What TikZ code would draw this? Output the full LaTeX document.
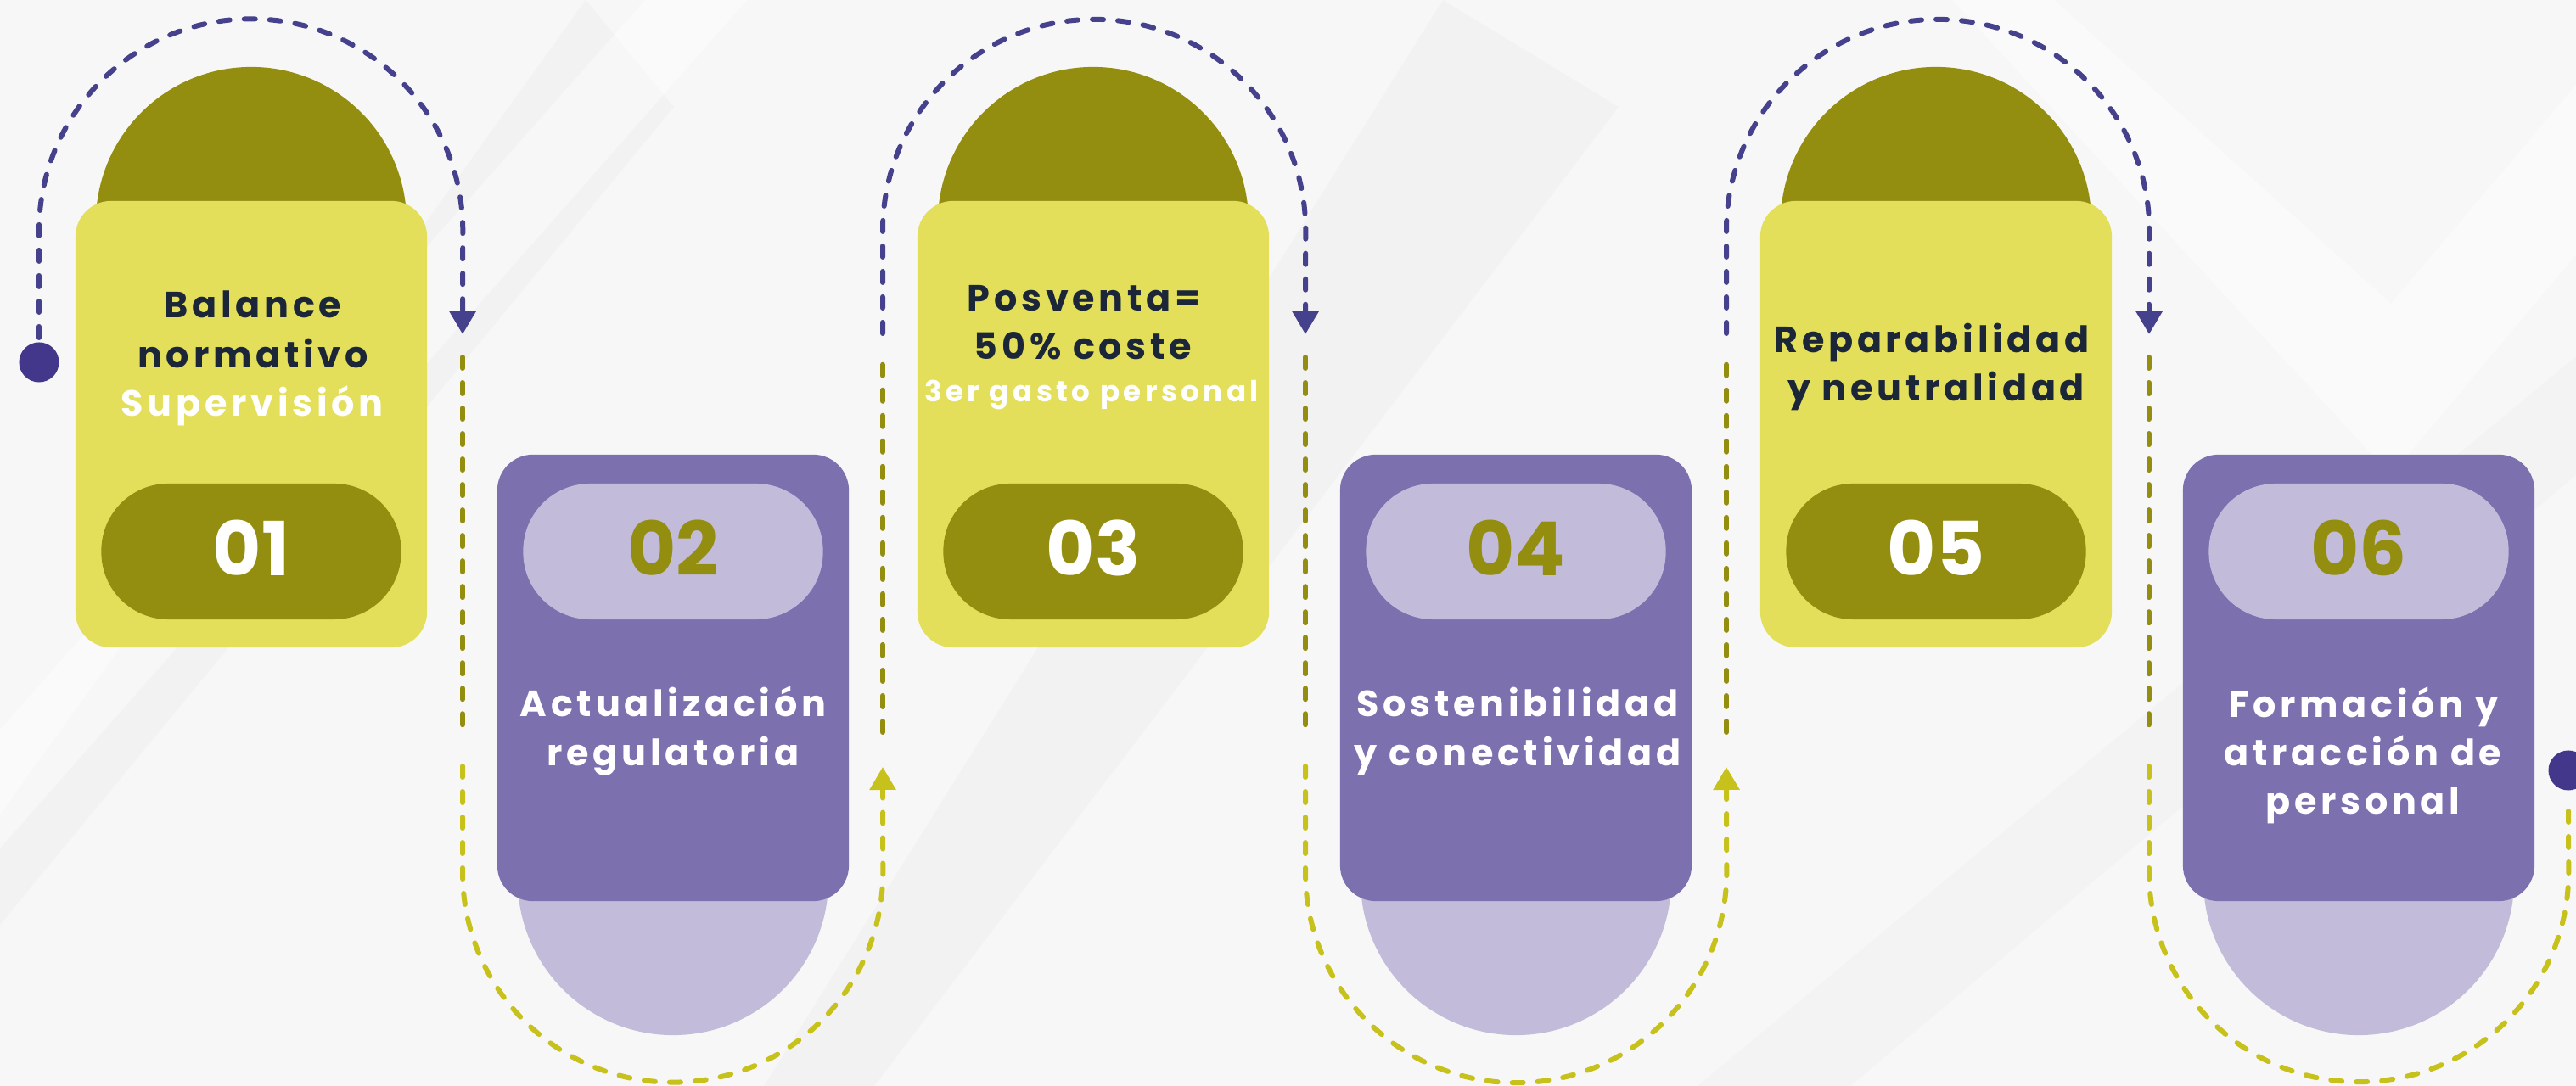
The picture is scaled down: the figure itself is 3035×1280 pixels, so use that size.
\documentclass[tikz,border=0pt]{standalone}
\usepackage{fontspec}
\setmainfont{Poppins}
\newfontfamily\lblf{Poppins}[LetterSpace=11]
\newfontfamily\subf{Poppins}[LetterSpace=13]
\newfontfamily\numf{Poppins}
\usetikzlibrary{arrows.meta}
\definecolor{bg}{HTML}{F7F7F8}
\definecolor{bgd}{HTML}{F1F1F2}
\definecolor{olive}{HTML}{948E10}
\definecolor{ylw}{HTML}{E3DF5B}
\definecolor{purp}{HTML}{7D70AE}
\definecolor{lpurp}{HTML}{C2BCDA}
\definecolor{navy}{HTML}{46418C}
\definecolor{dotc}{HTML}{43378B}
\definecolor{lime}{HTML}{C7C11B}
\definecolor{ink}{HTML}{1B2638}
\begin{document}
\begin{tikzpicture}[x=0.01cm,y=-0.01cm,
  card/.style={rounded corners=0.42cm, minimum width=4.14cm, minimum height=5.26cm, inner sep=0pt, outer sep=0pt},
  ycard/.style={card, fill=ylw},
  pcard/.style={card, fill=purp},
  pill/.style={rounded corners=0.79cm, minimum width=3.53cm, minimum height=1.6cm, inner sep=0pt},
  opill/.style={pill, fill=olive},
  lpill/.style={pill, fill=lpurp},
  dome/.style={circle, minimum size=3.66cm, inner sep=0pt},
  lbl/.style={font=\lblf\bfseries\fontsize{12.2}{14}\selectfont, anchor=base, inner sep=0pt},
  sublbl/.style={font=\subf\bfseries\fontsize{9.7}{11}\selectfont, anchor=base, inner sep=0pt, text=white},
  num/.style={font=\numf\bfseries\fontsize{25}{30}\selectfont, anchor=base, inner sep=0pt},
  link/.style={line width=0.06cm, dash pattern=on 0.13cm off 0.17cm, line cap=round},
  tip/.style={-{Triangle[width=0.30cm,length=0.27cm]}},
  dot/.style={circle, fill=dotc, minimum size=0.47cm, inner sep=0pt},
]
\useasboundingbox (0,0) rectangle (3035,1280);
\fill[bg] (0,0) rectangle (3035,1280);
% faint background chevrons
\fill[bgd, opacity=0.7] (690,0) -- (794,126) -- (0,1090) -- (0,960) -- cycle;
\fill[white, opacity=0.45] (760,0) -- (880,0) -- (0,1000) -- (0,860) -- cycle;
\fill[bgd, opacity=0.7] (1700,0) -- (1907,126) -- (1030,1280) -- (900,1280) -- cycle;
\fill[white, opacity=0.45] (2420,0) -- (2817,358) -- (3035,100) -- (3035,300) -- (2817,560) -- (2300,0) -- cycle;
\fill[bgd, opacity=0.6] (2000,1280) -- (3035,420) -- (3035,560) -- (2180,1280) -- cycle;

% domes
\node[dome, fill=olive] (d1) at (296,262) {};
\node[dome, fill=lpurp] (d2) at (793,1037) {};
\node[dome, fill=olive] (d3) at (1288,262) {};
\node[dome, fill=lpurp] (d4) at (1786,1037) {};
\node[dome, fill=olive] (d5) at (2281,262) {};
\node[dome, fill=lpurp] (d6) at (2779,1037) {};

% cards
\node[ycard] (c1) at (296,500) {};
\node[pcard] (c2) at (793,799) {};
\node[ycard] (c3) at (1288,500) {};
\node[pcard] (c4) at (1786,799) {};
\node[ycard] (c5) at (2281,500) {};
\node[pcard] (c6) at (2779,799) {};

% pills and numbers
\node[opill] (p1) at (296,650) {};
\node[lpill] (p2) at (793,650) {};
\node[opill] (p3) at (1288,650) {};
\node[lpill] (p4) at (1786,650) {};
\node[opill] (p5) at (2281,650) {};
\node[lpill] (p6) at (2779,650) {};
\node[num, text=white] (n1) at (296,679) {01};
\node[num, text=olive] (n2) at (793,679) {02};
\node[num, text=white] (n3) at (1288,679) {03};
\node[num, text=olive] (n4) at (1786,679) {04};
\node[num, text=white] (n5) at (2281,679) {05};
\node[num, text=olive] (n6) at (2779,679) {06};

% labels
\node[lbl, text=ink] (t1a) at (298,375) {Balance};
\node[lbl, text=ink] (t1b) at (298,434) {normativo};
\node[lbl, text=white] (t1c) at (297,491) {Supervisión};
\node[lbl, text=white] (t2a) at (793,845) {Actualización};
\node[lbl, text=white] (t2b) at (793,903) {regulatoria};
\node[lbl, text=ink] (t3a) at (1277,367) {Posventa=};
\node[lbl, text=ink] (t3b) at (1276,424) {50\% coste};
\node[sublbl] (t3c) at (1286,474) {3er gasto personal};
\node[lbl, text=white] (t4a) at (1788,845) {Sostenibilidad};
\node[lbl, text=white] (t4b) at (1788,903) {y conectividad};
\node[lbl, text=ink] (t5a) at (2276,416) {Reparabilidad};
\node[lbl, text=ink] (t5b) at (2281,473) {y neutralidad};
\node[lbl, text=white] (t6a) at (2785,846) {Formación y};
\node[lbl, text=white] (t6b) at (2784,903) {atracción de};
\node[lbl, text=white] (t6c) at (2784,960) {personal};

% path coordinates
\node[dot] (s) at (46,427) {};
\node[dot] (e) at (3026,908) {};
\coordinate (a0) at (46,398);
\coordinate (a1) at (545,394);
\coordinate (b0) at (545,421);
\coordinate (b1) at (545,863);
\coordinate (g0) at (545,903);
\coordinate (g1) at (1040,904);
\coordinate (h0) at (1040,863);
\coordinate (h1) at (1040,421);
\coordinate (k0) at (1040,393);
\coordinate (k1) at (1538,394);
\coordinate (m0) at (1538,421);
\coordinate (m1) at (1538,863);
\coordinate (q0) at (1538,903);
\coordinate (q1) at (2034,904);
\coordinate (r0) at (2034,863);
\coordinate (r1) at (2034,421);
\coordinate (u0) at (2034,393);
\coordinate (u1) at (2532,394);
\coordinate (v0) at (2532,421);
\coordinate (v1) at (2532,863);
\coordinate (w0) at (2532,903);
\coordinate (w1) at (3026,950);

% connectors
\draw[link, navy, tip] (a0) -- (46,272) arc[start angle=180, end angle=0, radius=2.495cm] -- (a1);
\draw[link, olive] (b0) -- (b1);
\draw[link, lime, tip] (g0) -- (545,1028) arc[start angle=180, end angle=360, radius=2.475cm] -- (g1);
\draw[link, olive] (h0) -- (h1);
\draw[link, navy, tip] (k0) -- (1040,272) arc[start angle=180, end angle=0, radius=2.49cm] -- (k1);
\draw[link, olive] (m0) -- (m1);
\draw[link, lime, tip] (q0) -- (1538,1028) arc[start angle=180, end angle=360, radius=2.48cm] -- (q1);
\draw[link, olive] (r0) -- (r1);
\draw[link, navy, tip] (u0) -- (2034,272) arc[start angle=180, end angle=0, radius=2.49cm] -- (u1);
\draw[link, olive] (v0) -- (v1);
\draw[link, lime] (w0) -- (2532,1028) arc[start angle=180, end angle=360, radius=2.47cm] -- (w1);
\end{tikzpicture}
\end{document}
